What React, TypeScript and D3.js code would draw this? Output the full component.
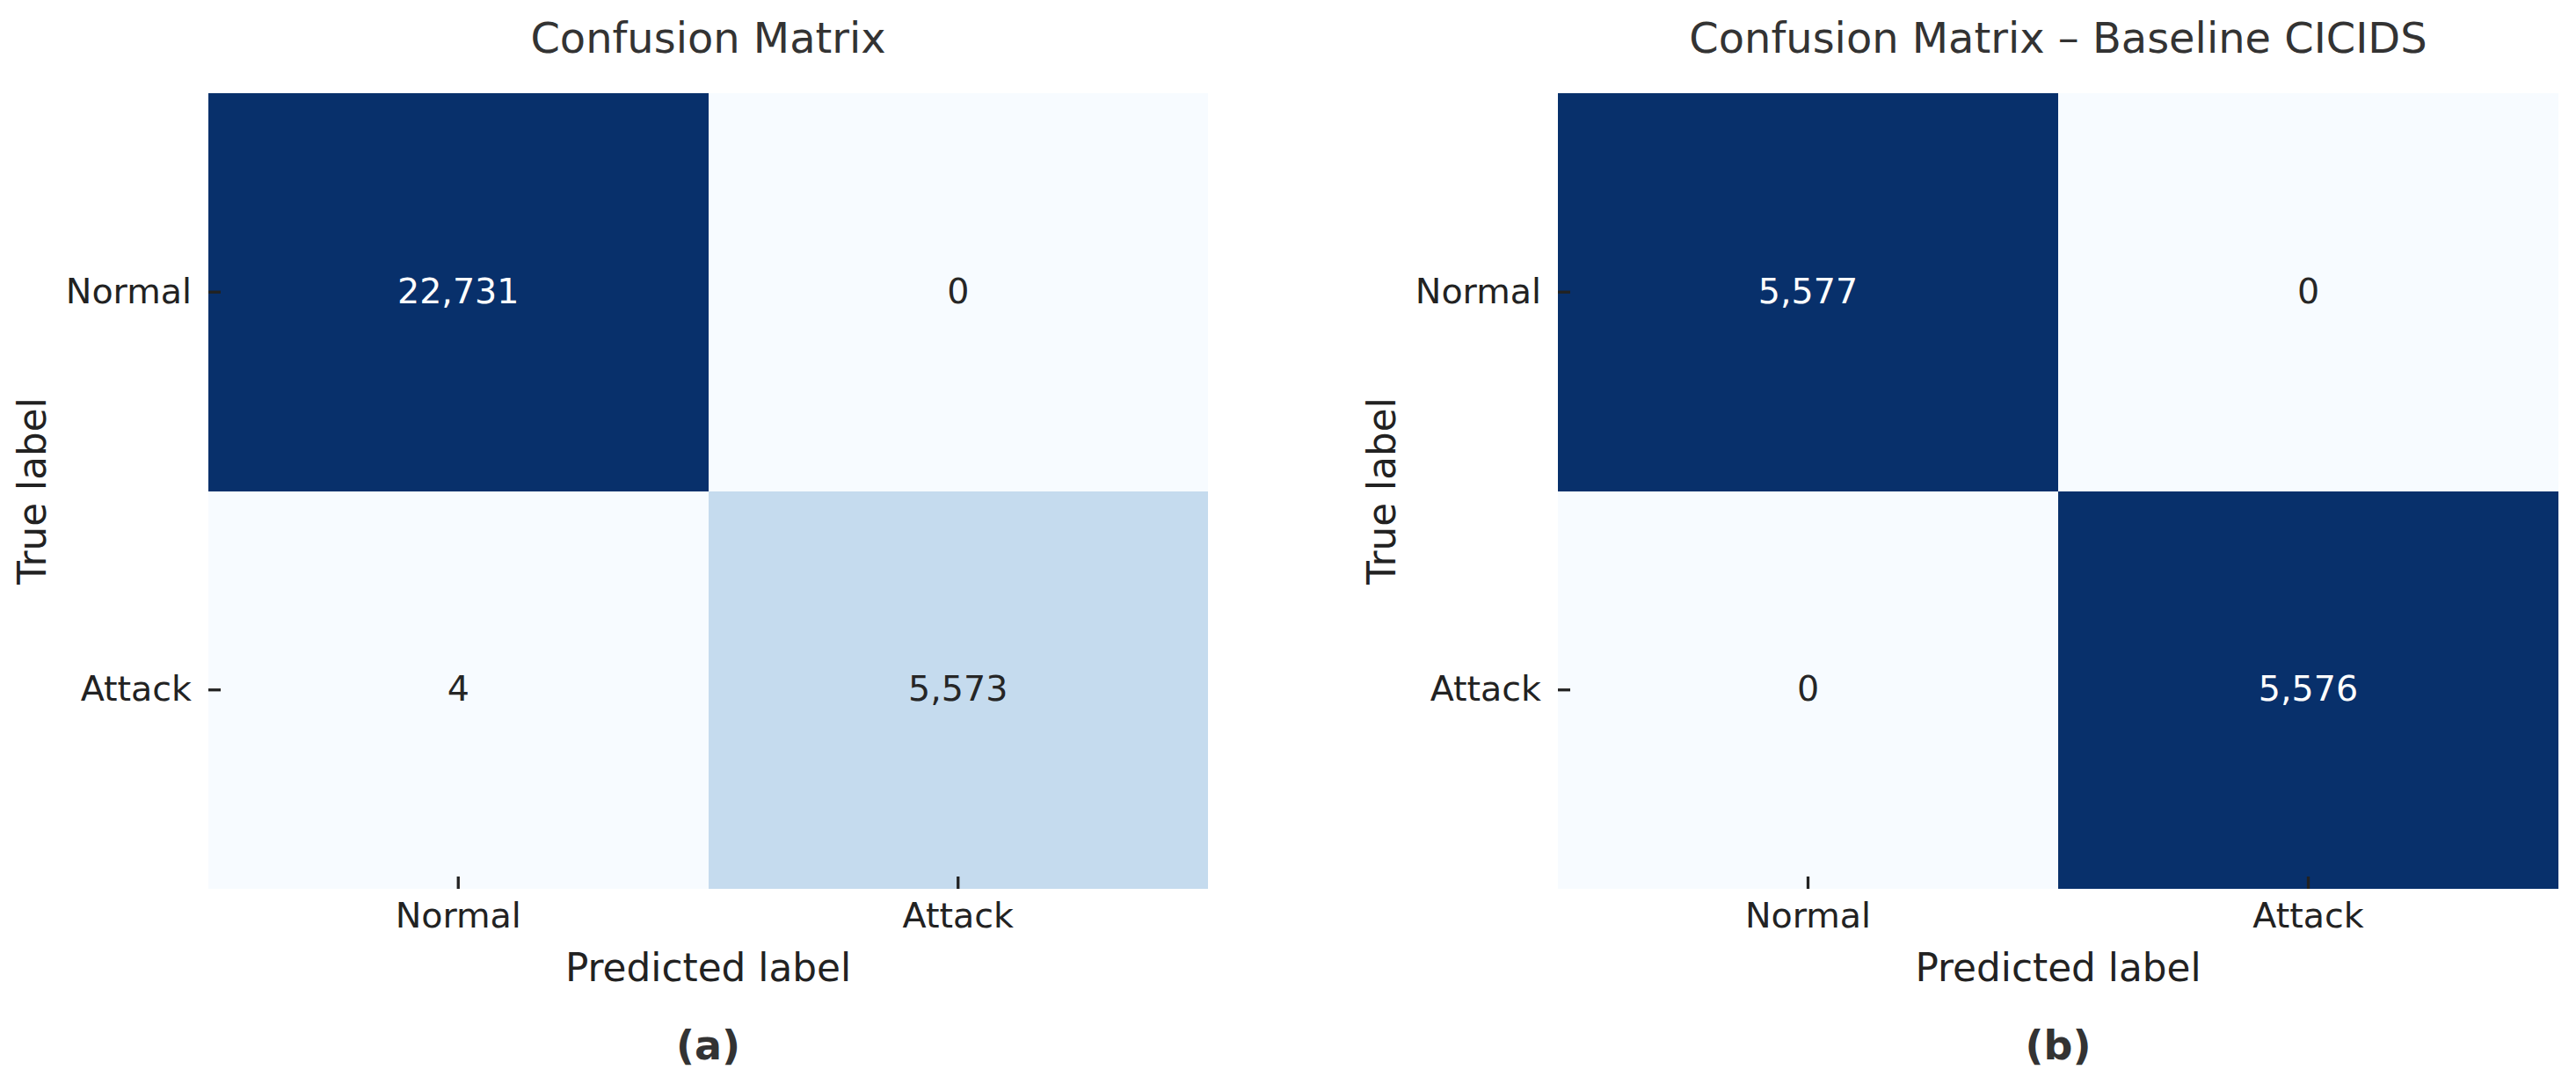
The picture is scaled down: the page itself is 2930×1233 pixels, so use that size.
import * as d3 from 'd3';
import { useEffect, useRef } from 'react';

const classLabels = ['Normal', 'Attack'];
const matrixA = [
  [22731, 0],
  [4, 5573],
];
const matrixB = [
  [5577, 0],
  [0, 5576],
];
const panelTitles = ['Confusion Matrix', 'Confusion Matrix \u2013 Baseline CICIDS'];
const panelTags = ['(a)', '(b)'];

const W = 2930;
const H = 1233;
const FONT = '"DejaVu Sans", Verdana, sans-serif';

const App = () => {
  const ref = useRef<SVGSVGElement>(null);

  useEffect(() => {
    const svg = d3.select(ref.current);
    svg.selectAll('*').remove();

    const panels = [
      { data: matrixA, title: panelTitles[0], tag: panelTags[0], x0: 237, x1: 1374 },
      { data: matrixB, title: panelTitles[1], tag: panelTags[1], x0: 1772, x1: 2910 },
    ];
    const y0 = 106;
    const y1 = 1011;

    panels.forEach(p => {
      const cells = p.data.flatMap((row, i) =>
        row.map((v, j) => ({ row: classLabels[i], col: classLabels[j], value: v }))
      );
      const flat = cells.map(c => c.value);

      const x = d3.scaleBand().domain(classLabels).range([p.x0, p.x1]).padding(0);
      const y = d3.scaleBand().domain(classLabels).range([y0, y1]).padding(0);
      const color = d3.scaleSequential(d3.interpolateBlues)
        .domain([d3.min(flat) as number, d3.max(flat) as number]);

      const g = svg.append('g');

      g.selectAll('rect.cell')
        .data(cells)
        .enter()
        .append('rect')
        .attr('class', 'cell')
        .attr('x', d => x(d.col) as number)
        .attr('y', d => y(d.row) as number)
        .attr('width', x.bandwidth())
        .attr('height', y.bandwidth())
        .attr('fill', d => color(d.value))
        .attr('shape-rendering', 'crispEdges');

      g.selectAll('text.annot')
        .data(cells)
        .enter()
        .append('text')
        .attr('class', 'annot')
        .attr('x', d => (x(d.col) as number) + x.bandwidth() / 2)
        .attr('y', d => (y(d.row) as number) + y.bandwidth() / 2)
        .attr('dy', '0.32em')
        .attr('text-anchor', 'middle')
        .attr('font-family', FONT)
        .attr('font-size', 39.6)
        .attr('fill', d => {
          const c = d3.rgb(color(d.value));
          const lum = 0.2126 * c.r + 0.7152 * c.g + 0.0722 * c.b;
          return lum < 104 ? '#ffffff' : '#262626';
        })
        .text(d => d3.format(',')(d.value));

      // ticks point inward like the original
      const yAxis = g.append('g')
        .attr('transform', `translate(${p.x0},0)`)
        .call(d3.axisLeft(y).tickSize(-14).tickPadding(19));
      const xAxis = g.append('g')
        .attr('transform', `translate(0,${y1})`)
        .call(d3.axisBottom(x).tickSize(-14).tickPadding(16));

      [yAxis, xAxis].forEach(ax => {
        ax.select('.domain').remove();
        ax.selectAll('line').attr('stroke', '#222').attr('stroke-width', 3.3);
        ax.selectAll('text')
          .attr('font-family', FONT)
          .attr('font-size', 39.6)
          .attr('fill', '#222');
      });

      const cx = (p.x0 + p.x1) / 2;

      g.append('text')
        .attr('x', cx)
        .attr('y', 60)
        .attr('text-anchor', 'middle')
        .attr('font-family', FONT)
        .attr('font-size', 47.9)
        .attr('fill', '#333')
        .text(p.title);

      g.append('text')
        .attr('x', cx)
        .attr('y', 1116)
        .attr('text-anchor', 'middle')
        .attr('font-family', FONT)
        .attr('font-size', 43.75)
        .attr('fill', '#222')
        .text('Predicted label');

      g.append('text')
        .attr('transform', `translate(${p.x0 - 185},${(y0 + y1) / 2}) rotate(-90)`)
        .attr('text-anchor', 'middle')
        .attr('font-family', FONT)
        .attr('font-size', 43.75)
        .attr('fill', '#222')
        .text('True label');

      g.append('text')
        .attr('x', cx)
        .attr('y', 1205)
        .attr('text-anchor', 'middle')
        .attr('font-family', FONT)
        .attr('font-size', 46)
        .attr('font-weight', 'bold')
        .attr('fill', '#333')
        .text(p.tag);
    });
  }, []);

  return (
    <svg
      ref={ref}
      width={W}
      height={H}
      style={{ position: 'absolute', left: 0, top: 0, background: '#fff' }}
    />
  );
};

export default App;
